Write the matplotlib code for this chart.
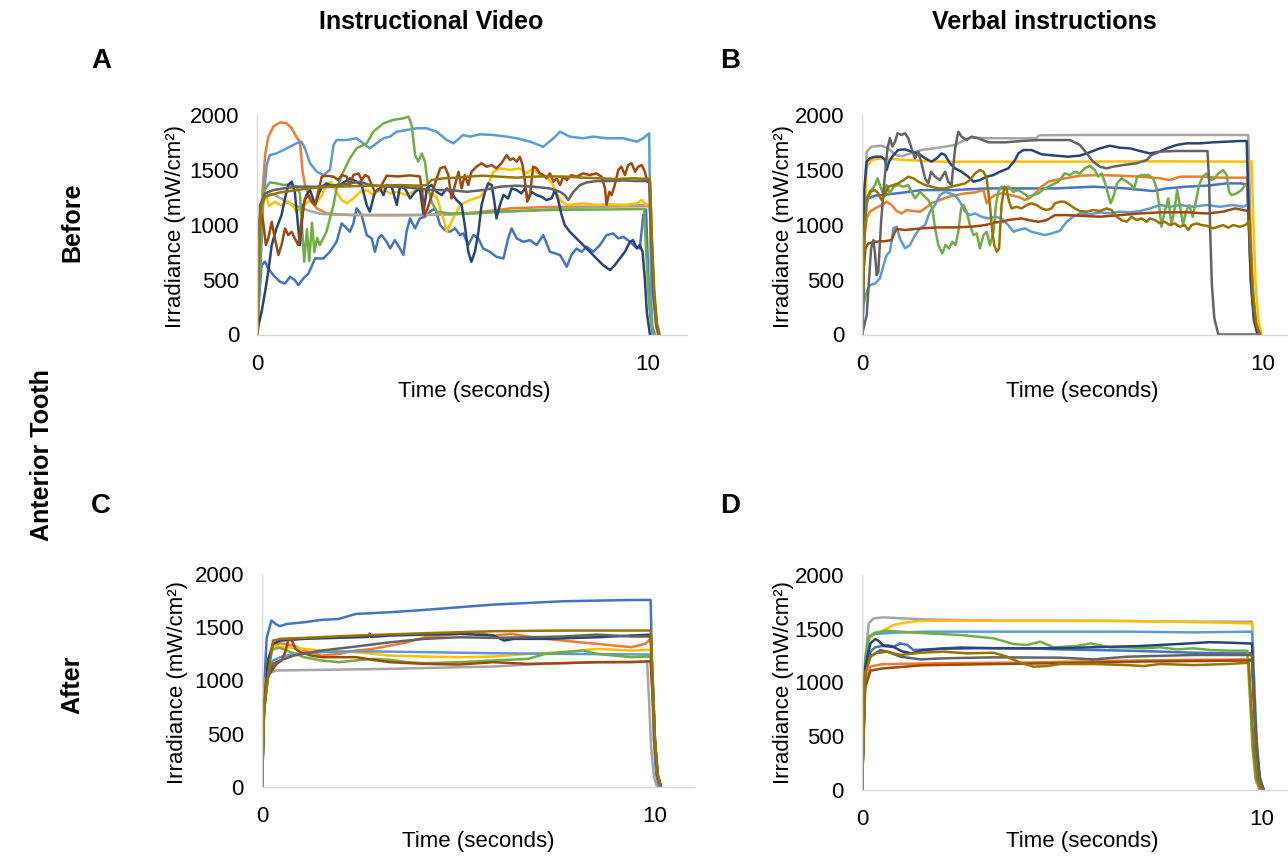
import numpy as np
import matplotlib
matplotlib.use("Agg")
import matplotlib.pyplot as plt

plt.rcParams['font.family'] = ['Liberation Sans', 'DejaVu Sans']

# colours (Excel default order)
BLUE, ORANGE, GRAY, YELLOW = '#4472C4', '#ED7D31', '#A5A5A5', '#FFC000'
LBLUE, GREEN, DBLUE, BROWN = '#5B9BD5', '#70AD47', '#264478', '#9E480E'
DGRAY, OLIVE = '#636363', '#997300'

col_titles = ['Instructional Video', 'Verbal instructions']
row_titles = ['Before', 'After']
panel_letters = ['A', 'B', 'C', 'D']
y_ticks = [0, 500, 1000, 1500, 2000]
x_ticks = [0, 10]

# ---- panel A: before, instructional video  [time s, irradiance] ----
a_blue = [[0,0],[0.03,268],[0.11,632],[0.2,663],[0.28,602],[0.41,541],[0.58,480],[0.71,465],[0.84,526],[0.96,496],[1.05,450],[1.18,511],[1.31,556],[1.48,693],[1.69,693],[1.86,754],[2.03,845],[2.16,1012],[2.29,967],[2.37,936],[2.46,1012],[2.54,1150],[2.67,1088],[2.8,906],[2.93,875],[3.01,754],[3.1,875],[3.18,906],[3.31,845],[3.4,784],[3.52,860],[3.65,784],[3.74,724],[3.82,936],[3.91,1058],[4.04,967],[4.16,1058],[4.29,1073],[4.42,1119],[4.55,1149],[4.68,997],[4.8,952],[4.93,936],[5.06,967],[5.19,906],[5.27,921],[5.4,815],[5.53,906],[5.66,875],[5.78,784],[5.95,754],[6.12,708],[6.3,693],[6.42,875],[6.51,967],[6.64,875],[6.81,845],[6.98,860],[7.15,815],[7.32,906],[7.49,754],[7.62,739],[7.75,724],[7.92,617],[8.04,724],[8.17,784],[8.3,754],[8.43,800],[8.6,754],[8.77,815],[8.94,906],[9.11,921],[9.24,875],[9.37,890],[9.54,845],[9.67,800],[9.79,784],[9.88,1088],[9.95,1140],[10.0,600],[10.05,200],[10.12,0]]
a_orange = [[0,0],[0.03,270],[0.11,1180],[0.2,1635],[0.28,1800],[0.41,1894],[0.58,1933],[0.75,1924],[0.88,1880],[1.0,1800],[1.09,1757],[1.16,1484],[1.22,1362],[1.35,1225],[1.52,1150],[1.77,1103],[2.37,1088],[3.5,1085],[4.5,1090],[5.0,1095],[5.8,1120],[6.5,1150],[7.5,1162],[8.5,1165],[9.5,1168],[10.05,1170],[10.1,700],[10.15,330],[10.22,80],[10.28,0]]
a_gray = [[0,0],[0.05,800],[0.1,1150],[0.2,1270],[0.4,1280],[0.6,1240],[0.8,1200],[1.0,1170],[1.3,1130],[1.6,1100],[2.0,1092],[3.0,1090],[4.0,1090],[5.0,1095],[6.0,1110],[7.0,1130],[8.0,1150],[9.0,1170],[10.05,1180],[10.1,700],[10.15,330],[10.22,80],[10.28,0]]
a_yellow = [[0,0],[0.05,700],[0.12,1250],[0.2,1290],[0.3,1170],[0.45,1210],[0.6,1180],[0.8,1210],[0.95,1150],[1.0,1120],[1.2,1180],[1.35,1225],[1.5,1195],[1.65,1270],[1.77,1362],[1.9,1392],[2.0,1316],[2.16,1225],[2.29,1195],[2.46,1240],[2.63,1300],[2.8,1316],[2.97,1270],[3.2,1330],[3.4,1286],[3.57,1300],[3.82,1270],[4.08,1316],[4.34,1300],[4.59,1255],[4.76,1058],[4.85,936],[4.93,1000],[5.19,1180],[5.44,1225],[5.7,1255],[5.87,1330],[6.04,1483],[6.21,1514],[6.47,1500],[6.72,1514],[6.89,1468],[7.06,1514],[7.23,1453],[7.4,1438],[7.57,1362],[7.75,1225],[7.92,1180],[8.34,1195],[8.68,1180],[9.03,1186],[9.37,1180],[9.71,1195],[9.84,1225],[9.97,1180],[10.05,1180],[10.1,700],[10.15,330],[10.22,80],[10.28,0]]
a_lblue = [[0,0],[0.07,510],[0.15,1180],[0.24,1544],[0.32,1635],[0.49,1650],[0.67,1681],[0.84,1711],[1.0,1742],[1.13,1757],[1.22,1696],[1.35,1560],[1.52,1484],[1.69,1453],[1.86,1500],[1.95,1727],[2.03,1772],[2.29,1772],[2.54,1788],[2.71,1742],[2.88,1696],[3.05,1742],[3.23,1788],[3.4,1803],[3.57,1848],[3.82,1863],[4.08,1879],[4.33,1879],[4.59,1848],[4.85,1772],[5.02,1742],[5.27,1818],[5.44,1803],[5.7,1824],[6.04,1818],[6.38,1803],[6.64,1788],[6.98,1757],[7.32,1711],[7.58,1788],[7.75,1848],[8.0,1803],[8.34,1788],[8.6,1803],[8.94,1788],[9.37,1788],[9.71,1757],[9.88,1788],[10.03,1833],[10.06,900],[10.09,250],[10.12,0]]
a_green = [[0,0],[0.05,600],[0.15,1300],[0.32,1386],[0.49,1377],[0.67,1362],[0.84,1368],[1.0,1347],[1.09,1286],[1.15,950],[1.2,663],[1.27,960],[1.33,670],[1.4,1020],[1.46,750],[1.53,880],[1.6,815],[1.77,936],[1.95,1180],[2.03,1331],[2.2,1483],[2.37,1605],[2.54,1696],[2.8,1742],[2.97,1848],[3.23,1924],[3.48,1955],[3.74,1970],[3.87,1985],[3.95,1909],[4.04,1635],[4.12,1575],[4.21,1650],[4.29,1575],[4.38,1331],[4.46,1210],[4.59,1119],[4.93,1103],[5.5,1103],[6.0,1120],[6.5,1125],[7.5,1134],[8.5,1138],[9.9,1143],[9.96,700],[10.02,330],[10.1,80],[10.18,0]]
a_dblue = [[0,0],[0.03,85],[0.11,207],[0.2,389],[0.28,572],[0.37,815],[0.49,967],[0.62,1088],[0.71,1240],[0.79,1362],[0.88,1392],[0.96,1300],[1.05,967],[1.09,815],[1.18,1180],[1.26,1270],[1.35,1316],[1.48,1180],[1.56,1270],[1.65,1347],[1.77,1377],[1.95,1347],[2.12,1362],[2.24,1392],[2.37,1423],[2.54,1392],[2.67,1362],[2.8,1180],[2.88,1119],[3.01,1300],[3.14,1331],[3.23,1270],[3.31,1362],[3.44,1347],[3.57,1180],[3.65,1347],[3.78,1331],[3.91,1240],[4.04,1300],[4.16,1331],[4.25,1103],[4.34,1331],[4.46,1362],[4.59,1300],[4.72,1270],[4.85,1331],[4.97,1286],[5.1,1225],[5.23,1180],[5.31,997],[5.4,754],[5.48,663],[5.57,754],[5.66,936],[5.74,1180],[5.83,1300],[5.91,1377],[6.0,1362],[6.08,1180],[6.12,1058],[6.21,1180],[6.3,1270],[6.42,1240],[6.51,1331],[6.64,1316],[6.76,1286],[6.85,1331],[6.94,1240],[7.02,1300],[7.15,1270],[7.28,1255],[7.4,1225],[7.53,1240],[7.62,1316],[7.7,1225],[7.79,1088],[7.87,997],[8.0,936],[8.17,875],[8.34,815],[8.51,754],[8.68,693],[8.85,632],[9.03,587],[9.15,632],[9.28,693],[9.41,754],[9.54,845],[9.62,860],[9.71,784],[9.79,815],[9.86,754],[9.92,500],[9.97,200],[10.05,0]]
a_brown = [[0,0],[0.03,997],[0.09,1119],[0.15,1027],[0.22,815],[0.28,875],[0.37,1027],[0.45,875],[0.54,724],[0.62,815],[0.71,967],[0.79,906],[0.88,936],[0.96,875],[1.05,815],[1.13,1027],[1.22,1240],[1.31,1270],[1.39,1210],[1.48,1180],[1.56,1300],[1.65,1438],[1.77,1447],[1.95,1438],[2.07,1407],[2.16,1453],[2.29,1438],[2.37,1362],[2.46,1453],[2.59,1468],[2.67,1407],[2.76,1453],[2.84,1438],[2.93,1362],[3.01,1300],[3.14,1331],[3.31,1447],[3.6,1440],[3.9,1450],[4.16,1440],[4.22,1300],[4.28,1088],[4.36,1150],[4.45,1250],[4.55,1377],[4.68,1514],[4.8,1529],[4.89,1453],[4.97,1240],[5.06,1362],[5.15,1483],[5.23,1331],[5.31,1453],[5.4,1362],[5.48,1483],[5.61,1529],[5.74,1560],[5.87,1529],[6.0,1544],[6.12,1514],[6.25,1560],[6.38,1635],[6.47,1590],[6.55,1605],[6.64,1575],[6.72,1620],[6.79,1544],[6.85,1392],[6.91,1210],[6.98,1270],[7.06,1529],[7.15,1514],[7.23,1468],[7.32,1453],[7.4,1423],[7.49,1468],[7.58,1392],[7.66,1423],[7.75,1362],[7.83,1438],[7.92,1407],[8.04,1453],[8.17,1438],[8.34,1468],[8.51,1453],[8.68,1468],[8.81,1438],[8.9,1331],[8.94,1180],[9.01,1300],[9.07,1270],[9.15,1362],[9.24,1499],[9.32,1529],[9.41,1453],[9.49,1544],[9.58,1560],[9.67,1483],[9.75,1529],[9.84,1544],[9.92,1483],[9.98,1392],[10.05,1390],[10.1,850],[10.15,400],[10.22,100],[10.28,0]]
a_dgray = [[0,0],[0.07,1180],[0.2,1286],[0.41,1316],[0.67,1331],[1.0,1347],[1.52,1347],[2.03,1362],[2.37,1377],[2.63,1392],[2.88,1362],[3.23,1347],[3.65,1347],[4.08,1331],[4.5,1316],[4.93,1316],[5.36,1300],[5.78,1316],[6.21,1347],[6.64,1356],[7.06,1347],[7.49,1331],[7.75,1300],[7.87,1270],[7.96,1225],[8.09,1300],[8.26,1362],[8.43,1386],[8.68,1398],[9.03,1398],[9.37,1404],[9.71,1398],[10.03,1398],[10.08,850],[10.13,400],[10.2,100],[10.26,0]]
a_olive = [[0,0],[0.05,875],[0.11,1180],[0.2,1255],[0.32,1270],[0.58,1295],[0.84,1307],[1.18,1325],[1.52,1338],[1.95,1347],[2.37,1350],[2.8,1356],[3.23,1356],[3.65,1362],[4.08,1356],[4.33,1362],[4.46,1407],[4.76,1423],[5.1,1429],[5.44,1440],[5.78,1447],[6.21,1438],[6.64,1429],[7.06,1438],[7.49,1441],[7.92,1438],[8.34,1429],[8.77,1423],[9.2,1417],[9.62,1423],[10.05,1417],[10.1,870],[10.16,400],[10.23,100],[10.3,0]]

# ---- panel B: before, verbal instructions ----
b_blue = [[0,0],[0.03,700],[0.07,1180],[0.15,1240],[0.32,1265],[0.65,1277],[1.07,1295],[1.48,1316],[2.32,1316],[2.73,1325],[3.15,1331],[4.82,1331],[5.77,1347],[6.61,1331],[7.27,1307],[7.61,1331],[8.11,1347],[8.61,1356],[9.11,1377],[9.44,1377],[9.62,1368],[9.67,900],[9.72,450],[9.8,120],[9.9,0]]
b_orange = [[0,0],[0.05,875],[0.11,1058],[0.19,1119],[0.32,1149],[0.48,1180],[0.61,1210],[0.73,1180],[0.86,1125],[0.98,1103],[1.11,1134],[1.28,1125],[1.44,1119],[1.57,1149],[1.73,1195],[1.94,1225],[2.15,1255],[2.36,1270],[2.57,1286],[2.82,1295],[3.03,1316],[3.11,1195],[3.19,1240],[3.32,1270],[3.48,1286],[3.69,1270],[3.9,1255],[4.07,1225],[4.19,1246],[4.32,1286],[4.48,1347],[4.65,1392],[4.82,1407],[5.07,1423],[5.44,1447],[5.94,1453],[6.44,1447],[6.94,1438],[7.44,1423],[7.69,1407],[7.94,1438],[8.44,1438],[8.94,1429],[9.62,1429],[9.67,950],[9.72,480],[9.8,130],[9.9,0]]
b_gray = [[0,0],[0.05,1200],[0.11,1666],[0.23,1712],[0.48,1720],[0.65,1696],[0.82,1636],[1.0,1625],[1.2,1650],[1.48,1681],[1.9,1702],[2.32,1727],[2.57,1772],[2.73,1794],[3.15,1788],[3.98,1788],[4.35,1790],[4.42,1815],[5.5,1818],[7.0,1818],[8.5,1818],[9.65,1818],[9.7,1100],[9.75,500],[9.83,120],[9.93,0]]
b_yellow = [[0,0],[0.05,1000],[0.11,1529],[0.23,1590],[0.48,1605],[1.07,1590],[1.9,1575],[3.15,1575],[5.32,1575],[7.5,1578],[9.73,1575],[9.78,1000],[9.83,480],[9.9,130],[9.98,0]]
b_lblue = [[0,0],[0.03,268],[0.08,359],[0.19,450],[0.32,465],[0.44,511],[0.53,632],[0.61,724],[0.69,754],[0.78,967],[0.86,982],[0.94,875],[1.07,784],[1.19,815],[1.32,906],[1.44,967],[1.57,997],[1.69,1119],[1.82,1180],[1.94,1270],[2.07,1300],[2.19,1286],[2.32,1270],[2.44,1210],[2.57,1119],[2.69,1088],[2.82,1103],[2.98,1073],[3.15,1058],[3.32,1073],[3.48,1058],[3.65,997],[3.78,936],[3.9,952],[4.07,967],[4.23,936],[4.4,921],[4.57,906],[4.73,921],[4.94,945],[5.11,1027],[5.27,1073],[5.44,1103],[5.69,1094],[5.94,1113],[6.19,1103],[6.44,1119],[6.69,1113],[6.94,1125],[7.19,1149],[7.44,1180],[7.69,1164],[7.94,1180],[8.27,1164],[8.61,1180],[8.94,1164],[9.27,1180],[9.52,1164],[9.65,1186],[9.7,800],[9.75,400],[9.83,100],[9.93,0]]
b_green = [[0,0],[0.05,875],[0.11,1180],[0.19,1300],[0.32,1362],[0.38,1423],[0.44,1362],[0.53,1270],[0.61,1362],[0.69,1286],[0.78,1347],[0.9,1362],[1.03,1347],[1.15,1362],[1.23,1300],[1.32,1240],[1.44,1300],[1.52,1270],[1.65,1225],[1.75,1149],[1.82,967],[1.9,815],[2.0,739],[2.08,815],[2.17,784],[2.25,845],[2.33,815],[2.4,936],[2.47,1149],[2.53,1180],[2.61,1119],[2.69,997],[2.78,906],[2.86,921],[2.94,784],[3.03,906],[3.11,936],[3.19,815],[3.28,936],[3.34,1180],[3.4,1300],[3.48,1347],[3.57,1331],[3.65,1347],[3.78,1300],[3.9,1316],[4.03,1286],[4.15,1255],[4.28,1270],[4.4,1286],[4.57,1331],[4.73,1362],[4.9,1392],[5.06,1468],[5.19,1453],[5.31,1483],[5.44,1468],[5.56,1514],[5.69,1538],[5.81,1499],[5.9,1438],[5.98,1468],[6.06,1392],[6.15,1270],[6.21,1195],[6.29,1270],[6.37,1377],[6.48,1423],[6.61,1392],[6.73,1362],[6.79,1316],[6.87,1438],[6.98,1453],[7.15,1453],[7.27,1423],[7.36,1331],[7.42,1180],[7.48,982],[7.56,1119],[7.65,1240],[7.73,997],[7.81,1149],[7.87,1316],[7.94,1180],[8.02,997],[8.09,1119],[8.17,1180],[8.26,1073],[8.34,1210],[8.42,1362],[8.51,1438],[8.61,1468],[8.73,1407],[8.81,1423],[8.9,1468],[9.02,1499],[9.11,1453],[9.17,1300],[9.23,1270],[9.36,1286],[9.48,1316],[9.57,1362],[9.65,1347],[9.7,900],[9.75,450],[9.83,120],[9.93,0]]
b_dblue = [[0,0],[0.05,1331],[0.11,1575],[0.19,1605],[0.32,1620],[0.48,1620],[0.57,1590],[0.61,1499],[0.67,1575],[0.78,1635],[0.9,1681],[1.07,1687],[1.23,1666],[1.4,1650],[1.57,1605],[1.73,1575],[1.86,1605],[1.98,1650],[2.07,1635],[2.19,1560],[2.32,1514],[2.48,1483],[2.65,1438],[2.78,1392],[2.94,1407],[3.11,1438],[3.28,1453],[3.44,1483],[3.65,1514],[3.82,1590],[3.9,1650],[4.03,1681],[4.23,1681],[4.48,1642],[4.82,1630],[5.15,1620],[5.44,1630],[5.61,1650],[5.94,1696],[6.19,1720],[6.44,1702],[6.69,1696],[6.94,1672],[7.19,1650],[7.44,1666],[7.61,1696],[7.86,1727],[8.11,1742],[8.44,1742],[8.77,1751],[9.11,1757],[9.44,1763],[9.61,1763],[9.66,1100],[9.71,500],[9.79,130],[9.88,0]]
b_brown = [[0,0],[0.03,572],[0.08,784],[0.15,830],[0.32,845],[0.57,851],[0.73,860],[0.8,921],[0.86,961],[1.07,952],[1.48,967],[1.9,976],[2.32,976],[2.73,982],[3.07,997],[3.32,1021],[3.48,1027],[3.65,1043],[3.98,1058],[4.15,1043],[4.4,1027],[4.61,1043],[4.82,1088],[5.07,1088],[5.44,1082],[5.94,1073],[6.44,1088],[6.94,1103],[7.44,1113],[8.11,1113],[8.61,1103],[9.02,1119],[9.32,1149],[9.52,1134],[9.65,1125],[9.7,800],[9.75,400],[9.83,100],[9.93,0]]
b_dgray = [[0,0],[0.03,55],[0.11,176],[0.17,510],[0.22,784],[0.28,860],[0.32,724],[0.36,541],[0.4,572],[0.47,1027],[0.55,1392],[0.63,1696],[0.69,1788],[0.75,1712],[0.82,1757],[0.88,1833],[0.98,1818],[1.07,1833],[1.15,1788],[1.23,1696],[1.32,1605],[1.4,1666],[1.48,1560],[1.57,1423],[1.65,1377],[1.72,1483],[1.82,1438],[1.94,1407],[2.07,1483],[2.15,1392],[2.23,1362],[2.32,1696],[2.4,1848],[2.48,1803],[2.61,1772],[2.73,1803],[2.9,1788],[3.15,1751],[3.57,1751],[3.98,1763],[4.4,1772],[4.82,1772],[5.19,1772],[5.44,1727],[5.61,1650],[5.77,1575],[5.94,1529],[6.11,1514],[6.27,1529],[6.52,1544],[6.86,1560],[7.11,1590],[7.23,1635],[7.44,1666],[7.86,1672],[8.27,1672],[8.63,1672],[8.67,1400],[8.7,900],[8.74,450],[8.8,150],[8.9,0],[9.9,0]]
b_olive = [[0,0],[0.05,875],[0.11,1240],[0.19,1300],[0.32,1316],[0.4,1286],[0.48,1225],[0.57,1270],[0.65,1347],[0.78,1362],[0.9,1377],[1.03,1407],[1.15,1438],[1.28,1423],[1.4,1392],[1.57,1362],[1.73,1347],[1.9,1331],[2.07,1331],[2.23,1347],[2.4,1362],[2.57,1377],[2.69,1407],[2.82,1468],[2.94,1499],[3.03,1483],[3.11,1423],[3.19,1180],[3.25,936],[3.3,815],[3.36,754],[3.42,784],[3.48,1180],[3.55,1347],[3.61,1316],[3.67,1210],[3.73,1149],[3.86,1164],[3.98,1149],[4.11,1180],[4.23,1195],[4.36,1180],[4.48,1149],[4.61,1134],[4.73,1149],[4.82,1195],[4.94,1210],[5.06,1210],[5.19,1180],[5.31,1149],[5.44,1125],[5.61,1119],[5.77,1134],[5.94,1125],[6.11,1149],[6.23,1134],[6.36,1073],[6.48,1043],[6.61,1027],[6.73,1073],[6.86,1043],[6.98,1058],[7.11,1027],[7.19,1058],[7.32,1043],[7.44,1012],[7.56,1027],[7.69,997],[7.81,1012],[7.94,982],[8.06,997],[8.15,952],[8.23,997],[8.36,1012],[8.48,997],[8.61,991],[8.77,967],[8.9,982],[9.02,997],[9.15,973],[9.27,997],[9.44,982],[9.57,997],[9.67,1027],[9.72,700],[9.77,350],[9.85,90],[9.95,0]]

# ---- panel C: after, instructional video ----
c_blue = [[0,0],[0.05,900],[0.12,1400],[0.24,1563],[0.35,1530],[0.45,1510],[0.63,1531],[1.07,1547],[1.51,1569],[1.95,1578],[2.39,1625],[3.26,1641],[4.14,1663],[5.02,1688],[5.89,1713],[6.77,1728],[7.65,1744],[8.53,1750],[9.4,1756],[9.89,1756],[9.93,1000],[9.97,450],[10.03,120],[10.1,0]]
c_orange = [[0,0],[0.05,700],[0.15,1125],[0.28,1328],[0.46,1350],[0.81,1328],[1.07,1281],[1.51,1234],[1.95,1250],[2.39,1281],[2.82,1297],[3.26,1328],[3.7,1359],[4.14,1406],[4.58,1422],[5.02,1438],[5.46,1453],[5.89,1422],[6.33,1438],[6.77,1413],[7.21,1391],[7.65,1375],[8.09,1359],[8.53,1344],[8.96,1328],[9.4,1313],[9.75,1344],[9.89,1391],[9.95,900],[10.0,420],[10.07,110],[10.15,0]]
c_gray = [[0,0],[0.06,1000],[0.15,1063],[0.37,1094],[1.51,1100],[3.26,1109],[5.02,1125],[5.89,1131],[6.77,1150],[7.65,1163],[8.53,1172],[9.8,1178],[9.85,800],[9.9,380],[9.97,100],[10.05,0]]
c_yellow = [[0,0],[0.05,700],[0.15,1188],[0.28,1328],[0.46,1319],[1.07,1297],[1.51,1281],[2.39,1266],[3.26,1234],[4.14,1225],[5.02,1219],[5.89,1225],[6.77,1250],[7.65,1266],[8.53,1297],[9.4,1281],[9.89,1288],[9.95,850],[10.0,400],[10.07,100],[10.15,0]]
c_lblue = [[0,0],[0.05,700],[0.15,1094],[0.28,1188],[0.46,1219],[0.81,1250],[1.51,1266],[2.39,1275],[4.14,1266],[5.89,1256],[7.65,1250],[9.89,1244],[9.95,800],[10.0,380],[10.07,100],[10.15,0]]
c_green = [[0,0],[0.05,700],[0.15,1188],[0.28,1297],[0.46,1306],[0.63,1281],[1.07,1219],[1.51,1188],[1.95,1172],[2.39,1188],[2.82,1203],[3.26,1194],[3.7,1172],[4.14,1163],[5.02,1172],[5.89,1188],[6.77,1203],[7.21,1250],[7.65,1266],[8.18,1281],[8.53,1250],[8.96,1234],[9.4,1219],[9.89,1225],[9.95,800],[10.0,380],[10.07,100],[10.15,0]]
c_dblue = [[0,0],[0.05,700],[0.15,1188],[0.28,1344],[0.46,1375],[1.07,1391],[2.39,1406],[2.7,1410],[2.74,1440],[2.78,1410],[3.26,1422],[4.14,1431],[5.02,1438],[5.89,1422],[6.16,1375],[6.42,1391],[7.21,1391],[8.53,1406],[9.89,1431],[9.95,900],[10.0,420],[10.07,110],[10.15,0]]
c_brown = [[0,0],[0.02,563],[0.1,969],[0.19,1063],[0.37,1156],[0.5,1188],[0.59,1266],[0.68,1391],[0.76,1375],[0.85,1297],[0.98,1266],[1.25,1234],[1.51,1219],[1.95,1219],[2.39,1219],[2.82,1194],[3.26,1172],[4.14,1156],[5.02,1150],[5.89,1172],[6.77,1156],[7.65,1163],[8.53,1172],[9.4,1172],[9.89,1181],[9.95,780],[10.0,370],[10.07,100],[10.15,0]]
c_dgray = [[0,0],[0.05,700],[0.15,1031],[0.28,1156],[0.46,1188],[0.81,1234],[1.51,1281],[2.39,1319],[3.26,1359],[4.14,1391],[5.02,1406],[5.89,1400],[6.77,1406],[7.65,1413],[8.53,1431],[9.4,1413],[9.89,1413],[9.95,900],[10.0,420],[10.07,110],[10.15,0]]
c_olive = [[0,0],[0.05,700],[0.15,1031],[0.28,1375],[0.46,1391],[1.07,1400],[2.39,1422],[4.14,1444],[5.89,1463],[7.65,1469],[9.89,1469],[9.95,950],[10.0,450],[10.07,120],[10.15,0]]

# ---- panel D: after, verbal instructions ----
d_blue = [[0,0],[0.08,1116],[0.21,1287],[0.33,1327],[0.63,1349],[0.79,1333],[0.96,1364],[1.13,1349],[1.29,1302],[1.63,1308],[2.46,1327],[3.29,1318],[4.13,1318],[4.96,1308],[5.79,1302],[6.63,1296],[7.46,1287],[8.29,1277],[9.13,1271],[9.75,1271],[9.8,850],[9.86,400],[9.94,100],[10.04,0]]
d_orange = [[0,0],[0.08,1000],[0.21,1150],[0.5,1170],[2.0,1180],[4.0,1185],[6.0,1200],[8.0,1210],[9.75,1215],[9.8,800],[9.86,380],[9.94,100],[10.04,0]]
d_gray = [[0,0],[0.08,1209],[0.17,1550],[0.29,1597],[0.54,1606],[0.96,1597],[1.63,1587],[3.29,1575],[4.96,1575],[6.63,1572],[8.29,1566],[9.75,1566],[9.8,1050],[9.86,500],[9.94,130],[10.04,0]]
d_yellow = [[0,0],[0.08,1147],[0.17,1395],[0.29,1457],[0.46,1473],[0.63,1504],[0.79,1535],[1.21,1566],[1.63,1575],[3.29,1575],[4.96,1575],[6.63,1572],[8.29,1562],[9.75,1550],[9.8,1050],[9.86,500],[9.94,130],[10.04,0]]
d_lblue = [[0,0],[0.08,1209],[0.17,1426],[0.33,1451],[0.79,1463],[1.63,1473],[3.29,1473],[4.96,1473],[6.63,1473],[8.29,1466],[9.75,1473],[9.8,1000],[9.86,480],[9.94,120],[10.04,0]]
d_green = [[0,0],[0.08,1209],[0.17,1426],[0.33,1463],[0.63,1482],[0.96,1473],[1.63,1457],[2.46,1442],[3.29,1411],[3.79,1358],[4.13,1349],[4.46,1380],[4.79,1327],[5.38,1339],[5.71,1364],[6.21,1327],[6.63,1327],[7.04,1318],[7.46,1327],[7.88,1308],[8.29,1318],[8.71,1302],[9.13,1296],[9.63,1296],[9.7,850],[9.76,400],[9.84,100],[9.94,0]]
d_dblue = [[0,0],[0.08,1147],[0.21,1364],[0.33,1404],[0.42,1386],[0.54,1340],[0.79,1330],[1.0,1290],[1.25,1270],[1.5,1300],[2.0,1315],[3.0,1320],[4.0,1318],[5.0,1320],[6.0,1330],[7.0,1340],[8.0,1360],[8.7,1375],[9.2,1370],[9.75,1362],[9.8,900],[9.86,430],[9.94,110],[10.04,0]]
d_brown = [[0,0],[0.08,950],[0.21,1110],[0.5,1130],[1.5,1160],[3.0,1170],[5.0,1180],[7.0,1195],[9.75,1205],[9.8,800],[9.86,380],[9.94,100],[10.04,0]]
d_dgray = [[0,0],[0.08,1085],[0.21,1240],[0.33,1271],[0.46,1302],[0.63,1287],[0.96,1240],[1.46,1215],[2.04,1225],[3.29,1234],[4.96,1231],[5.79,1215],[6.63,1240],[8.29,1256],[9.75,1256],[9.8,850],[9.86,400],[9.94,100],[10.04,0]]
d_olive = [[0,0],[0.08,1085],[0.21,1240],[0.33,1271],[0.63,1287],[0.96,1256],[1.46,1277],[2.04,1287],[2.63,1271],[3.29,1277],[3.63,1240],[3.96,1184],[4.29,1147],[4.63,1153],[4.96,1172],[5.79,1172],[6.63,1162],[7.04,1153],[7.46,1172],[8.29,1162],[9.13,1172],[9.67,1184],[9.73,800],[9.8,380],[9.88,100],[9.98,0]]

panel_a = [(a_blue, BLUE), (a_orange, ORANGE), (a_gray, GRAY), (a_yellow, YELLOW), (a_lblue, LBLUE),
           (a_green, GREEN), (a_dblue, DBLUE), (a_brown, BROWN), (a_dgray, DGRAY), (a_olive, OLIVE)]
panel_b = [(b_blue, BLUE), (b_orange, ORANGE), (b_gray, GRAY), (b_yellow, YELLOW), (b_lblue, LBLUE),
           (b_green, GREEN), (b_dblue, DBLUE), (b_brown, BROWN), (b_dgray, DGRAY), (b_olive, OLIVE)]
panel_c = [(c_blue, BLUE), (c_orange, ORANGE), (c_gray, GRAY), (c_yellow, YELLOW), (c_lblue, LBLUE),
           (c_green, GREEN), (c_dblue, DBLUE), (c_brown, BROWN), (c_dgray, DGRAY), (c_olive, OLIVE)]
panel_d = [(d_blue, BLUE), (d_orange, ORANGE), (d_gray, GRAY), (d_yellow, YELLOW), (d_lblue, LBLUE),
           (d_green, GREEN), (d_dblue, DBLUE), (d_brown, BROWN), (d_dgray, DGRAY), (d_olive, OLIVE)]

W, H = 1288, 856
fig = plt.figure(figsize=(W / 100, H / 100), dpi=100)


def px_axes(x0, y0, y2000, pps):
    # axes box from pixel positions: x of t=0, y of 0 and 2000, pixels per second
    return fig.add_axes([x0 / W, 1 - y0 / H, 11 * pps / W, (y0 - y2000) / H])


def draw(ax, series):
    for pts, col in series:
        arr = np.array(pts, dtype=float)
        ax.plot(arr[:, 0], arr[:, 1], color=col, lw=1.8, solid_joinstyle='round')
    ax.set_xlim(0, 11)
    ax.set_ylim(0, 2000)
    ax.set_xticks(x_ticks)
    ax.set_yticks(y_ticks)
    for s in ['top', 'right']:
        ax.spines[s].set_visible(False)
    for s in ['left', 'bottom']:
        ax.spines[s].set_color('#D9D9D9')
        ax.spines[s].set_linewidth(1.0)
    ax.tick_params(axis='both', length=0, labelsize=16)
    ax.tick_params(axis='y', pad=13)
    ax.tick_params(axis='x', pad=14)


ax_a = px_axes(257.3, 334.5, 115, 39.07)
ax_b = px_axes(862.3, 334.5, 115, 40.0)
ax_c = px_axes(262, 787, 574, 39.3)
ax_d = px_axes(862, 790, 575, 40.0)

for ax, ser in zip([ax_a, ax_b, ax_c, ax_d], [panel_a, panel_b, panel_c, panel_d]):
    draw(ax, ser)


def ftext(x, y, s, **kw):
    fig.text(x / W, 1 - y / H, s, ha='center', va='center', **kw)


ftext(431, 22, col_titles[0], fontsize=18, fontweight='bold')
ftext(1044, 22, col_titles[1], fontsize=18, fontweight='bold')
for (x, y), letter in zip([(101, 61), (730, 61), (101, 506), (730, 506)], panel_letters):
    ftext(x, y, letter, fontsize=20, fontweight='bold')
ftext(72, 222, row_titles[0], fontsize=18, fontweight='bold', rotation=90)
ftext(72, 685, row_titles[1], fontsize=18, fontweight='bold', rotation=90)
ftext(42, 455, 'Anterior Tooth', fontsize=18, fontweight='bold', rotation=90)

ylab = 'Irradiance (mW/cm²)'
for x, y in [(175, 226), (783, 226), (178, 682), (783, 683)]:
    ftext(x, y, ylab, fontsize=16, rotation=90)
for x, y in [(474, 391), (1082, 391), (478, 841), (1082, 841)]:
    ftext(x, y, 'Time (seconds)', fontsize=16)

fig.savefig('out.png', dpi=100)
